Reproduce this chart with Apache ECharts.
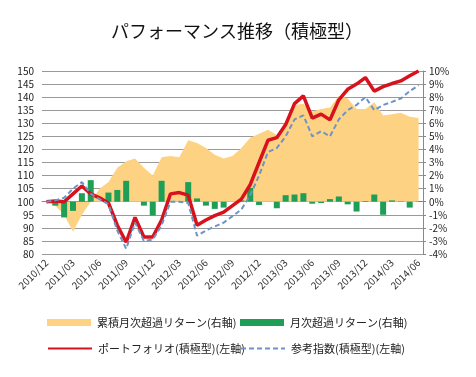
<!DOCTYPE html>
<html><head><meta charset="utf-8">
<script src="https://cdn.jsdelivr.net/npm/echarts@6/dist/echarts.min.js"></script>
<style>html,body{margin:0;padding:0;background:#fff}#c{width:476px;height:377px}</style>
</head><body><div id="c"></div>
<script>
const months = ['2010/12','2011/01','2011/02','2011/03','2011/04','2011/05','2011/06','2011/07','2011/08','2011/09','2011/10','2011/11','2011/12',
'2012/01','2012/02','2012/03','2012/04','2012/05','2012/06','2012/07','2012/08','2012/09','2012/10','2012/11','2012/12',
'2013/01','2013/02','2013/03','2013/04','2013/05','2013/06','2013/07','2013/08','2013/09','2013/10','2013/11','2013/12',
'2014/01','2014/02','2014/03','2014/04','2014/05','2014/06'];
const cumExcess = [0,-0.3,-1.0,-2.3,-1.0,0.0,1.0,1.5,2.6,3.1,3.3,2.6,2.0,3.4,3.5,3.4,4.7,4.5,4.1,3.6,3.3,3.5,4.1,4.9,5.2,5.5,5.1,5.7,7.4,7.5,6.9,7.1,7.2,8.1,7.9,7.1,7.1,7.6,6.6,6.7,6.8,6.5,6.4];
const monthlyExcess = [0,-0.3,-1.2,-0.7,0.65,1.65,0,0.7,0.9,1.6,0,-0.3,-1.05,1.6,0,0,1.5,0.25,-0.3,-0.55,-0.45,0,0.1,1.05,-0.25,0,-0.5,0.5,0.55,0.65,-0.15,-0.1,0.2,0.4,-0.2,-0.75,0.05,0.55,-1.0,0.1,0.03,-0.45,0.03];
const portfolio = [100,100.3,100,103,106,103,101.5,99.5,91,84.5,94,86.5,86.5,93,103,103.5,102.5,91,93,94.7,96,98.5,101,106.5,115,123.5,124.5,129.5,137.5,140.5,132,133.5,131.3,139,143,145,147.5,142.3,144,145.2,146.2,148.2,150];
const benchmark = [100,100.5,101.5,105,107.5,103,101,99,89,82,92,85,85.5,91,100,100,99.5,87,89,90.5,92,94.5,97,102.5,110,119,120.5,125,131.5,133,125,127,125,131.5,135,137,140,135,137,138.2,139.5,142.3,144.5];
const names = ['累積月次超過リターン(右軸)','月次超過リターン(右軸)','ポートフォリオ(積極型)(左軸)','参考指数(積極型)(左軸)'];
const title = 'パフォーマンス推移（積極型）';

const font = '"Noto Sans CJK JP", sans-serif';
const chart = echarts.init(document.getElementById('c'));
function lg(name, left, top, icon){
  const o = {data:[name], left:left, top:top, itemWidth:44, itemHeight:7, itemGap:0,
    textStyle:{fontFamily:font, fontSize:11, color:'#222', padding:[0,0,0,1]}, selectedMode:false};
  if (icon) o.icon = icon; else o.itemStyle = {opacity:0};
  return o;
}
chart.setOption({
  animation:false,
  title:{text:title, left:232, textAlign:'center', top:17, textStyle:{fontFamily:font, fontSize:18, fontWeight:'normal', color:'#111'}},
  legend:[lg(names[0],42,312,'rect'), lg(names[1],235,312,'rect'), lg(names[2],42,338), lg(names[3],235,338)],
  grid:{left:42, right:53, top:71, bottom:123},
  xAxis:{type:'category', data:months, boundaryGap:true,
    axisLine:{lineStyle:{color:'#888'}}, axisTick:{show:false},
    axisLabel:{interval:2, rotate:45, fontFamily:font, fontSize:10, color:'#333', margin:7}},
  yAxis:[
    {type:'value', min:80, max:150, interval:5, position:'left',
     axisLine:{show:false}, axisTick:{show:false},
     axisLabel:{fontFamily:font, fontSize:10, color:'#222', margin:8},
     splitLine:{lineStyle:{color:'#999', width:1}}},
    {type:'value', min:-4, max:10, interval:1, position:'right',
     axisLine:{show:true, lineStyle:{color:'#888'}}, axisTick:{show:true, length:3, lineStyle:{color:'#888'}},
     axisLabel:{formatter:'{value}%', fontFamily:font, fontSize:10, color:'#222', margin:6},
     splitLine:{show:false}}
  ],
  series:[
    {name:names[0], type:'line', yAxisIndex:1, data:cumExcess, symbol:'none',
     lineStyle:{width:0, opacity:0}, itemStyle:{color:'#FDD383'}, areaStyle:{color:'#FDD383', opacity:1}, z:1},
    {name:names[1], type:'bar', yAxisIndex:1, data:monthlyExcess, barWidth:6,
     itemStyle:{color:'#1E9F55'}, z:2},
    {name:names[2], type:'line', yAxisIndex:0, data:portfolio, symbol:'none',
     lineStyle:{color:'#D8121C', width:3.5}, itemStyle:{color:'#D8121C'}, z:3},
    {name:names[3], type:'line', yAxisIndex:0, data:benchmark, symbol:'none',
     lineStyle:{color:'#6E93C4', width:2, type:[5,3]}, itemStyle:{color:'#6E93C4'}, z:4}
  ]
});
</script></body></html>
